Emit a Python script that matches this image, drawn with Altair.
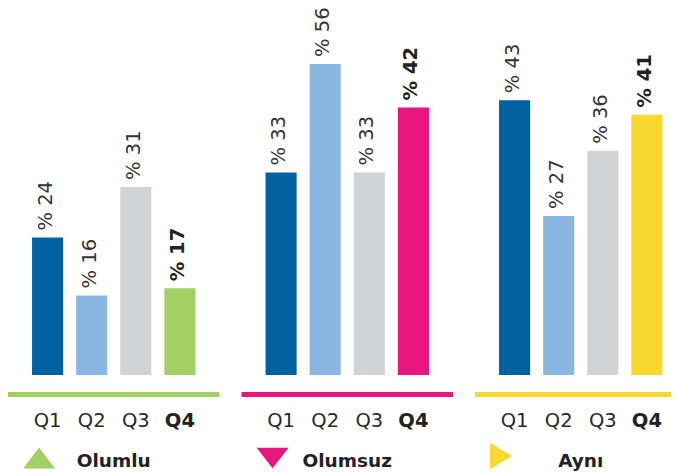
import altair as alt
import pandas as pd

groups = ["Olumlu", "Olumsuz", "Aynı"]
quarters = ["Q1", "Q2", "Q3", "Q4"]
olumlu = [24, 16, 31, 17]
olumsuz = [33, 56, 33, 42]
ayni = [43, 27, 36, 41]

quarter_colors = ["#0062a0", "#8ab7e1", "#d1d4d7"]
group_colors = ["#a3d065", "#ea1680", "#f8d72e"]
shapes = [
    "M-1,0.66L1,0.66L0,-0.66Z",
    "M-1,-0.64L1,-0.64L0,0.64Z",
    "M-1.0,-0.93L0.38,-0.12L-1.0,0.69Z",
]

rows = []
for g, vals in zip(groups, [olumlu, olumsuz, ayni]):
    for q, v in zip(quarters, vals):
        rows.append({"group": g, "quarter": q, "value": v,
                     "colorKey": g if q == "Q4" else q,
                     "label": f"% {v}"})
df = pd.DataFrame(rows)
gdf = pd.DataFrame({"group": groups})

FONT = "DejaVu Sans"
W, H = 663, 311
xscale = alt.Scale(domain=groups, range=[0, 678.5], paddingInner=22 / 233.5, paddingOuter=0)
xoff = alt.Scale(domain=quarters, paddingInner=0.295, paddingOuter=0.545)
yscale = alt.Scale(domain=[5, 48], clamp=True, nice=False, zero=False)
cscale = alt.Scale(domain=quarters[:3] + groups, range=quarter_colors + group_colors)

X = alt.X("group:N", scale=xscale, axis=None)
XO = alt.XOffset("quarter:N", scale=xoff)
Y = alt.Y("value:Q", scale=yscale, axis=None)

base = alt.Chart(df)

bars = base.mark_bar().encode(
    x=X, xOffset=XO, y=Y, y2=alt.datum(5),
    color=alt.Color("colorKey:N", scale=cscale, legend=None),
)

labels = base.transform_filter(alt.datum.quarter != "Q4").mark_text(
    angle=270, align="left", baseline="middle", dx=7, dy=-2,
    font=FONT, fontSize=19.5, color="#333333",
).encode(x=X, xOffset=XO, y=Y, text="label:N")

labels_b = base.transform_filter(alt.datum.quarter == "Q4").mark_text(
    angle=270, align="left", baseline="middle", dx=7, dy=-2,
    font=FONT, fontSize=19.5, fontWeight="bold", color="#222222",
).encode(x=X, xOffset=XO, y=Y, text="label:N")

lines = alt.Chart(gdf).mark_rect().encode(
    x=X, y=alt.value(328), y2=alt.value(333),
    color=alt.Color("group:N", scale=cscale, legend=None),
)

qlab = base.transform_filter(alt.datum.quarter != "Q4").mark_text(
    baseline="alphabetic", align="center", font=FONT, fontSize=19.5, color="#2a2a2a",
).encode(x=X, xOffset=XO, y=alt.value(363), text="quarter:N")

qlab_b = base.transform_filter(alt.datum.quarter == "Q4").mark_text(
    baseline="alphabetic", align="center", font=FONT, fontSize=19.5,
    fontWeight="bold", color="#222222",
).encode(x=X, xOffset=XO, y=alt.value(363), text="quarter:N")

tri = alt.Chart(gdf).mark_point(filled=True, size=1024, opacity=1, strokeWidth=0).encode(
    x=alt.X("group:N", scale=xscale, axis=None, bandPosition=0.147),
    y=alt.value(394),
    shape=alt.Shape("group:N", scale=alt.Scale(domain=groups, range=shapes), legend=None),
    color=alt.Color("group:N", scale=cscale, legend=None),
)

leg_text = alt.Chart(gdf).mark_text(
    baseline="alphabetic", align="center", font=FONT, fontSize=18.5,
    fontWeight="bold", color="#222222",
).encode(x=X, y=alt.value(403), text="group:N")

chart = alt.layer(bars, labels, labels_b, lines, qlab, qlab_b, tri, leg_text).properties(
    width=W, height=H,
    autosize=alt.AutoSizeParams(type="none"),
    padding={"left": 0, "top": 56, "right": 0, "bottom": 96},
    background="white",
).configure_view(stroke=None)

chart.save("out.html", embed_options={"renderer": "svg", "actions": False})
